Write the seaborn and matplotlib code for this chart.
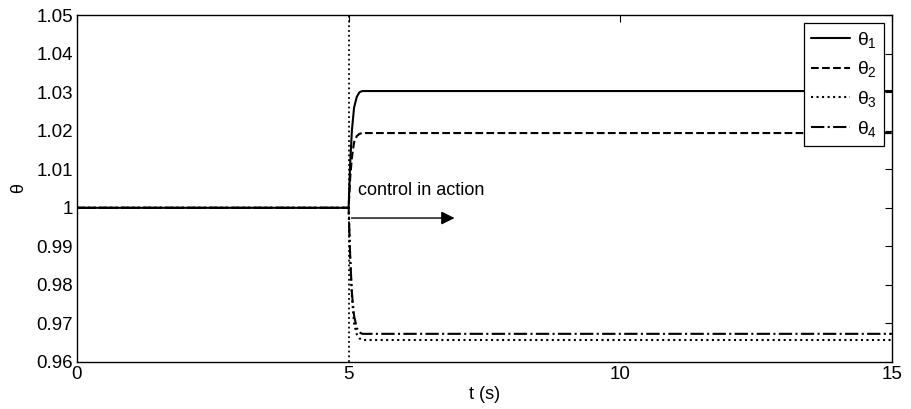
import matplotlib
matplotlib.use("Agg")
import matplotlib.pyplot as plt
import pandas as pd
import seaborn as sns

# time samples (s)
t = [0, 5.0, 5.03, 5.06, 5.10, 5.15, 5.20, 5.25, 5.30, 15]

theta1 = [1.0, 1.0, 1.012, 1.020, 1.026, 1.0288, 1.0300, 1.0303, 1.0303, 1.0303]
theta2 = [1.0, 1.0, 1.008, 1.013, 1.017, 1.0186, 1.0192, 1.0194, 1.0194, 1.0194]
theta3 = [1.0, 1.0, 0.986, 0.977, 0.970, 0.9672, 0.9661, 0.9657, 0.9657, 0.9657]
theta4 = [1.0, 1.0, 0.987, 0.978, 0.972, 0.9688, 0.9677, 0.9673, 0.9673, 0.9673]

labels = [r"$\theta_1$", r"$\theta_2$", r"$\theta_3$", r"$\theta_4$"]
styles = ["-", "--", ":", "-."]

sns.set_theme(style="white")
plt.rcParams["font.family"] = ["Liberation Sans", "DejaVu Sans"]
plt.rcParams["mathtext.fontset"] = "custom"
plt.rcParams["mathtext.rm"] = "Liberation Sans"
plt.rcParams["mathtext.it"] = "Liberation Sans"
plt.rcParams["text.color"] = "black"
plt.rcParams["axes.labelcolor"] = "black"

fig, ax = plt.subplots(figsize=(9.12, 4.09), dpi=100)

for y, lab, ls in zip([theta1, theta2, theta3, theta4], labels, styles):
    df = pd.DataFrame({"t": t, "theta": y})
    sns.lineplot(data=df, x="t", y="theta", ax=ax, color="black",
                 linestyle=ls, linewidth=1.5, label=lab)

ax.axvline(5, color="black", linestyle=":", linewidth=1.3)
ax.annotate("", xy=(7.0, 0.99735), xytext=(5.0, 0.99735),
            arrowprops=dict(arrowstyle="-|>", color="black", lw=1.0,
                            mutation_scale=20))
ax.text(5.17, 1.0046, "control in action", fontsize=13, va="center",
        color="black")

ax.set_xlim(0, 15)
ax.set_ylim(0.96, 1.05)
ax.set_xticks([0, 5, 10, 15])
ax.set_yticks([0.96, 0.97, 0.98, 0.99, 1.0, 1.01, 1.02, 1.03, 1.04, 1.05])
ax.set_yticklabels(["0.96", "0.97", "0.98", "0.99", "1", "1.01", "1.02",
                    "1.03", "1.04", "1.05"])
ax.set_xlabel("t (s)", fontsize=13, labelpad=2)
ax.set_ylabel(r"$\theta$", fontsize=13, labelpad=6)
ax.tick_params(direction="in", top=True, right=True, labelsize=13.5,
               length=5, width=0.8, colors="black", pad=3)
for s in ax.spines.values():
    s.set_color("black")
    s.set_linewidth(1.0)

leg = ax.legend(loc="upper right", fontsize=14, frameon=True, fancybox=False,
                framealpha=1.0, borderaxespad=0.4, handlelength=2.0,
                handletextpad=0.4, labelspacing=0.5, borderpad=0.35)
leg.get_frame().set_edgecolor("black")
leg.get_frame().set_linewidth(0.9)
for txt in leg.get_texts():
    txt.set_color("black")

fig.subplots_adjust(left=0.0844, right=0.978, top=0.963, bottom=0.115)
fig.savefig("out.png", dpi=100)
